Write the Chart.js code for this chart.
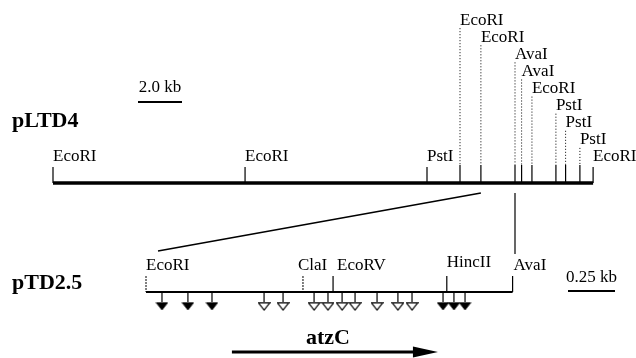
<!DOCTYPE html>
<html>
<head>
<meta charset="utf-8">
<script src="https://cdn.jsdelivr.net/npm/chart.js@4.4.0/dist/chart.umd.min.js"></script>
<style>
  html, body { margin: 0; padding: 0; background: #fff; }
  #wrap { width: 636px; height: 358px; }
</style>
</head>
<body>
<div id="wrap"><canvas id="map" width="636" height="358"></canvas></div>
<script>
// pLTD4 : sites en kb depuis le EcoRI de gauche
const topSites = ["EcoRI", "EcoRI", "PstI", "EcoRI", "EcoRI", "AvaI", "AvaI", "EcoRI", "PstI", "PstI", "PstI", "EcoRI"];
const topPos = [0, 8.73, 17.0, 18.5, 19.45, 21.0, 21.3, 21.77, 22.86, 23.3, 23.95, 24.55];

// pTD2.5 : sites en kb depuis son EcoRI
const subSites = ["EcoRI", "ClaI", "EcoRV", "HincII", "AvaI"];
const subPos = [0, 0.835, 0.995, 1.60, 1.95];

// insertions (triangles pleins / vides)
const filledPos = [0.085, 0.223, 0.351, 1.580, 1.638, 1.697];
const openPos = [0.628, 0.729, 0.894, 0.968, 1.043, 1.112, 1.229, 1.340, 1.415];

// gène
const geneName = "atzC";
const geneStart = 0.457;
const geneEnd = 1.553;

// barres d'échelle
const topScaleKb = 2.0;
const subScaleKb = 0.25;

// mise en page (pixels)
const FONT = "'Liberation Serif', 'Times New Roman', serif";
const TOP_Y = 183, SUB_Y = 292;
const ROW_H = 17.1, LABEL_Y0 = 157;
const TOP_PX_PER_KB = 22, TOP_X0 = 53;
const SUB_PX_PER_KB = 188, SUB_X0 = 146;

function topRow(i) {
    // les sites serrés à droite sont empilés en escalier
    return i >= 3 ? topPos.length - 1 - i : 0;
}

// segments verticaux séparés par des trous
function segs(list) {
    const out = [];
    list.forEach(s => {
        out.push({ x: s.x, y: s.y0 }, { x: s.x, y: s.y1 }, { x: s.x, y: null });
    });
    return out;
}

const topSolid = segs(topPos.map((p, i) => ({ x: p, y0: topRow(i) ? 165 : 167, y1: TOP_Y })));
const topDotted = segs(topPos.map((p, i) => ({ x: p, i })).filter(s => topRow(s.i) > 0)
    .map(s => ({ x: s.x, y0: LABEL_Y0 - topRow(s.i) * ROW_H + 8, y1: 165 })));
const subSolid = segs(subPos.map((p, i) => ({ x: p, i })).filter(s => s.i >= 2)
    .map(s => ({ x: s.x, y0: 276, y1: SUB_Y })));
const subDashed = segs(subPos.map((p, i) => ({ x: p, i })).filter(s => s.i < 2)
    .map(s => ({ x: s.x, y0: 276, y1: SUB_Y })));
const stems = segs(filledPos.concat(openPos).map(p => ({ x: p, y0: SUB_Y, y1: 302 })));

// petits triangles pointe en bas
function triangle(filled) {
    const c = document.createElement("canvas");
    c.width = 13; c.height = 9;
    const g = c.getContext("2d");
    g.beginPath();
    g.moveTo(0.8, 0.8); g.lineTo(12.2, 0.8); g.lineTo(6.5, 8); g.closePath();
    if (filled) { g.fillStyle = "#000"; g.fill(); g.lineWidth = 0.8; g.stroke(); }
    else { g.fillStyle = "#fff"; g.fill(); g.lineWidth = 1.2; g.strokeStyle = "#000"; g.stroke(); }
    return c;
}

const lineDs = (data, width, axis, dash) => ({
    type: "line", data, xAxisID: axis, yAxisID: "y",
    borderColor: "#000", borderWidth: width, borderDash: dash || [],
    pointRadius: 0, spanGaps: false, tension: 0, fill: false
});

const labelPlugin = {
    id: "labels",
    afterDatasetsDraw(chart) {
        const ctx = chart.ctx;
        const x = chart.scales.x, x2 = chart.scales.x2, y = chart.scales.y;
        ctx.save();
        ctx.fillStyle = "#000";
        ctx.strokeStyle = "#000";
        ctx.textBaseline = "middle";

        // noms des sites
        ctx.font = "17px " + FONT;
        ctx.textAlign = "left";
        topSites.forEach((s, i) => {
            ctx.fillText(s, x.getPixelForValue(topPos[i]), y.getPixelForValue(LABEL_Y0 - topRow(i) * ROW_H));
        });
        const nudge = { ClaI: -5, EcoRV: 4, AvaI: 1 };
        subSites.forEach((s, i) => {
            ctx.fillText(s, x2.getPixelForValue(subPos[i]) + (nudge[s] || 0), y.getPixelForValue(s === "HincII" ? 263 : 266));
        });

        // barres d'échelle
        ctx.textAlign = "center";
        const w1 = x.getPixelForValue(topScaleKb) - x.getPixelForValue(0);
        ctx.fillText(topScaleKb.toFixed(1) + " kb", 138 + w1 / 2, 88);
        ctx.fillRect(138, 101, w1, 2);
        const w2 = x2.getPixelForValue(subScaleKb) - x2.getPixelForValue(0);
        ctx.fillText(subScaleKb + " kb", 568 + w2 / 2, 278);
        ctx.fillRect(568, 290, w2, 2);

        // noms des plasmides et du gène
        ctx.font = "bold 22px " + FONT;
        ctx.textAlign = "left";
        ctx.fillText("pLTD4", 12, 121);
        ctx.fillText("pTD2.5", 12, 283);
        ctx.textAlign = "center";
        const gx0 = x2.getPixelForValue(geneStart), gx1 = x2.getPixelForValue(geneEnd);
        ctx.fillText(geneName, (gx0 + gx1) / 2 - 7, 338);

        // pointe de la flèche
        const ay = y.getPixelForValue(352);
        ctx.beginPath();
        ctx.moveTo(gx1, ay);
        ctx.lineTo(gx1 - 25, ay - 5.5);
        ctx.lineTo(gx1 - 25, ay + 5.5);
        ctx.closePath();
        ctx.fill();

        // lignes d'agrandissement
        ctx.lineWidth = 1.5;
        ctx.beginPath();
        ctx.moveTo(x.getPixelForValue(topPos[4]), y.getPixelForValue(193));
        ctx.lineTo(x2.getPixelForValue(subPos[0]) + 12, y.getPixelForValue(251));
        ctx.stroke();
        ctx.lineWidth = 1.2;
        ctx.beginPath();
        ctx.moveTo(x.getPixelForValue(topPos[5]), y.getPixelForValue(193));
        ctx.lineTo(x.getPixelForValue(topPos[5]), y.getPixelForValue(254));
        ctx.stroke();
        ctx.restore();
    }
};

new Chart(document.getElementById("map"), {
    type: "scatter",
    data: {
        datasets: [
            lineDs([{ x: topPos[0], y: TOP_Y }, { x: topPos[topPos.length - 1], y: TOP_Y }], 3.5, "x"),
            lineDs(topSolid, 1.2, "x"),
            lineDs(topDotted, 1, "x", [1, 2]),
            lineDs([{ x: subPos[0], y: SUB_Y }, { x: subPos[subPos.length - 1], y: SUB_Y }], 2.2, "x2"),
            lineDs(subSolid, 1.2, "x2"),
            lineDs(subDashed, 1, "x2", [2, 1]),
            lineDs(stems, 1.2, "x2"),
            lineDs([{ x: geneStart, y: 352 }, { x: geneEnd - 0.12, y: 352 }], 3, "x2"),
            {
                type: "scatter", xAxisID: "x2", yAxisID: "y",
                data: filledPos.map(p => ({ x: p, y: 306.5 })),
                pointStyle: triangle(true), pointRadius: 5
            },
            {
                type: "scatter", xAxisID: "x2", yAxisID: "y",
                data: openPos.map(p => ({ x: p, y: 306.5 })),
                pointStyle: triangle(false), pointRadius: 5
            }
        ]
    },
    options: {
        responsive: false,
        animation: false,
        events: [],
        layout: { padding: 0, autoPadding: false },
        plugins: { legend: { display: false }, tooltip: { enabled: false } },
        scales: {
            x: { type: "linear", display: false, min: -TOP_X0 / TOP_PX_PER_KB, max: (636 - TOP_X0) / TOP_PX_PER_KB },
            x2: { type: "linear", display: false, min: -SUB_X0 / SUB_PX_PER_KB, max: (636 - SUB_X0) / SUB_PX_PER_KB },
            y: { type: "linear", display: false, min: 0, max: 358, reverse: true }
        }
    },
    plugins: [labelPlugin]
});
</script>
</body>
</html>
